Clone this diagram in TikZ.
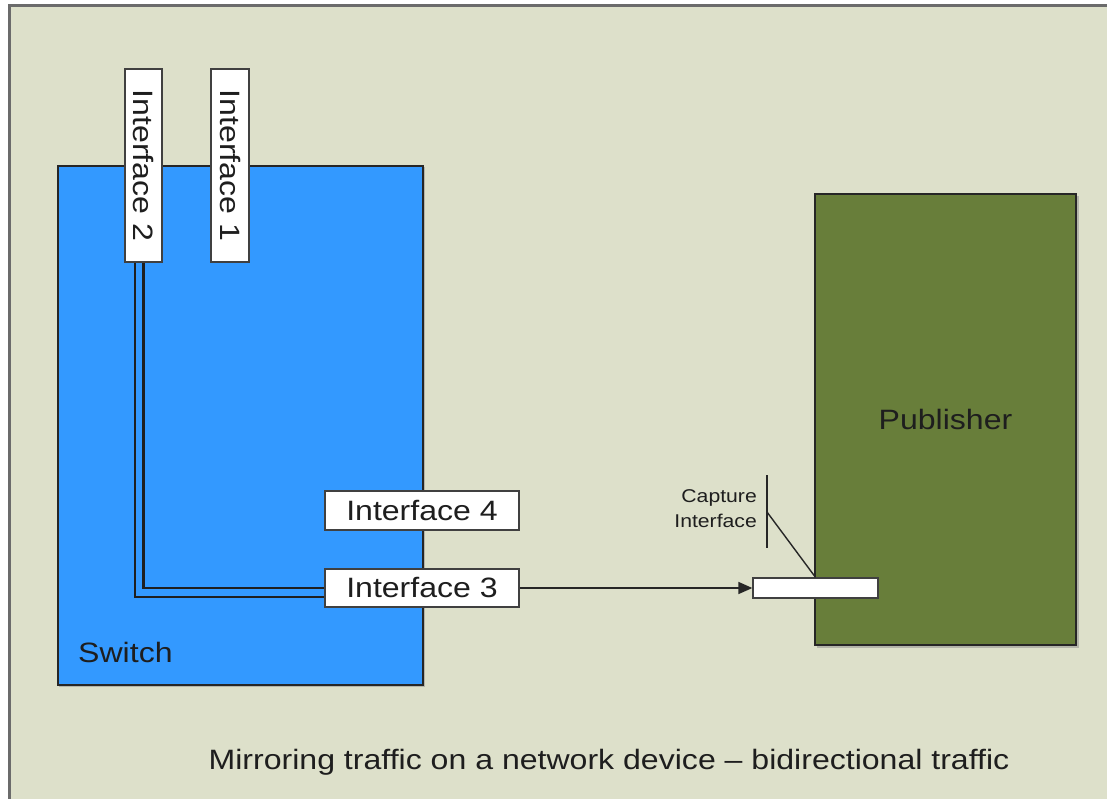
\documentclass[tikz,border=0pt]{standalone}
\usepackage{fontspec}
\setmainfont{Liberation Sans}[FakeStretch=1.145]
\usetikzlibrary{arrows.meta,calc}

\definecolor{paper}{HTML}{DDE0CA}
\definecolor{frame}{HTML}{6B6B6B}
\definecolor{switchblue}{HTML}{3399FF}
\definecolor{pubgreen}{HTML}{687E3A}
\definecolor{ink}{HTML}{1E1E1E}

\tikzset{
  device/.style={draw=black!85, line width=2.2pt, inner sep=0pt},
  devshadow/.style={fill=black!45, opacity=0.5},
  port/.style={draw=black!75, fill=white, line width=1.3pt, inner sep=0pt,
    text=ink, font=\fontsize{28}{30}\selectfont},
  wire/.style={draw=black!88, line width=2.4pt},
  label/.style={text=ink, inner sep=0pt},
}

\begin{document}
\begin{tikzpicture}[x=1pt, y=-1pt]
  \useasboundingbox (0,0) rectangle (1107,799);
  \fill[white] (0,0) rectangle (1107,799);
  % page area with its frame on top and left
  \fill[paper] (9,6) rectangle (1107,799);
  \draw[frame, line width=3pt] (9,801) -- (9,6) -- (1109,6);

  % soft shadows under the two devices
  \fill[devshadow] (59,167) rectangle (425,687);
  \fill[devshadow] (817,196) rectangle (1079,648);

  % devices
  \node[device, fill=switchblue, minimum width=365pt, minimum height=519pt,
        anchor=north west] (switch) at (57,165) {};
  \node[device, fill=pubgreen, minimum width=261pt, minimum height=451pt,
        text=ink, font=\fontsize{28}{30}\selectfont] (pub) at (945.5,419.5) {Publisher};

  % switch ports
  \node[port, rotate=-90, minimum width=193pt, minimum height=37pt] (if2) at (143.5,165.5) {Interface 2};
  \node[port, rotate=-90, minimum width=193pt, minimum height=38pt] (if1) at (230,165.5) {Interface 1};
  \node[port, minimum width=194pt, minimum height=39pt] (if4) at (422,510.5) {Interface 4};
  \node[port, minimum width=194pt, minimum height=38pt] (if3) at (422,588) {Interface 3};

  % capture port on the publisher
  \node[port, minimum width=125pt, minimum height=20pt] (cap) at (815.5,588) {};

  % labels
  \node[label, anchor=west, font=\fontsize{28}{30}\selectfont] (swlabel) at (78,652) {Switch};
  \node[label, anchor=east, align=right, font=\fontsize{18.5}{25}\selectfont] (caplabel) at (757,509)
    {Capture\\Interface};
  \node[label, font=\fontsize{28}{30}\selectfont] (caption) at (609,762)
    {Mirroring traffic on a network device -- bidirectional traffic};

  % mirrored traffic path from Interface 2 to Interface 3
  \draw[wire] ($(if2.east)+(-8.5,0)$) |- ($(if3.west)+(0,9)$);
  \draw[wire] (if2.east) |- (if3.west);

  % traffic to the capture interface
  \draw[draw=black!85, line width=1.6pt, -{Triangle[length=14pt, width=12pt]}] (if3.east) -- (cap.west);

  % callout for the capture interface
  \coordinate (brtop) at (767,475);
  \coordinate (brbot) at (767,548);
  \coordinate (brmid) at (767,512);
  \draw[black!85, line width=1.6pt] (brtop) -- (brbot);
  \draw[black!85, line width=1.4pt] (brmid) -- (cap.north);
\end{tikzpicture}
\end{document}
